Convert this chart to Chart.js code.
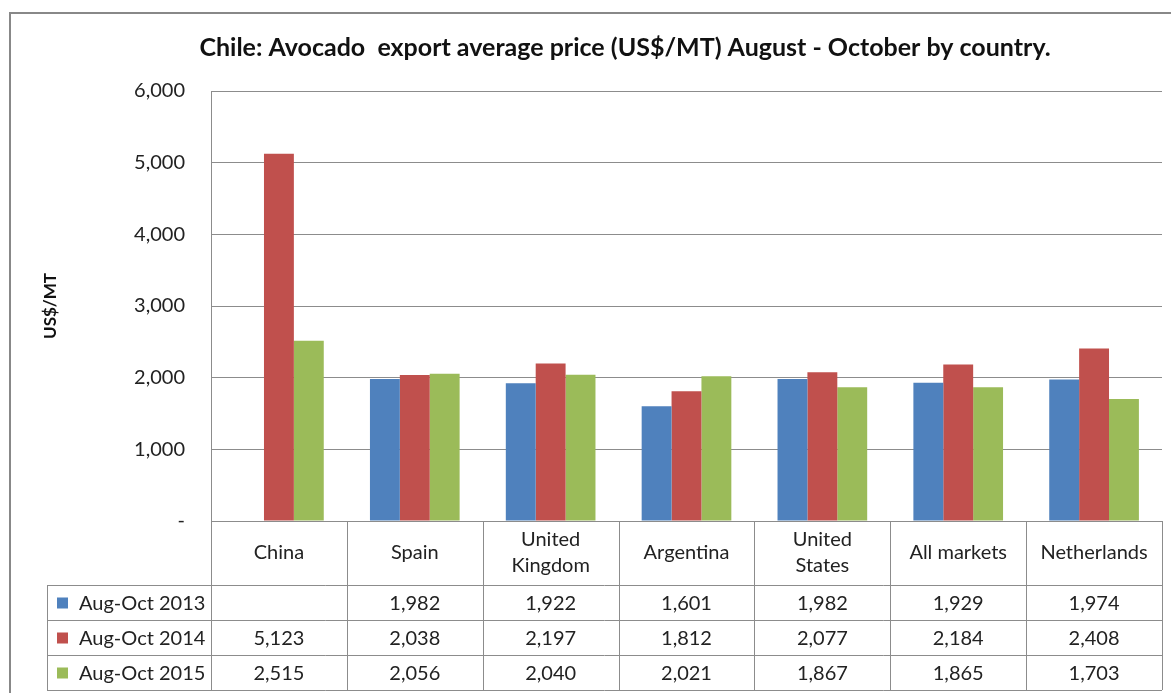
<!DOCTYPE html>
<html>
<head>
<meta charset="utf-8">
<script src="https://cdn.jsdelivr.net/npm/chart.js@4.4.1/dist/chart.umd.min.js"></script>
<style>
  html, body { margin: 0; padding: 0; background: #fff; }
  canvas { display: block; }
</style>
</head>
<body>
<canvas id="avocado" width="1171" height="693"></canvas>
<script>
// data
var categories = ["China", "Spain", "United Kingdom", "Argentina", "United States", "All markets", "Netherlands"];
var headerLines = [["China"], ["Spain"], ["United", "Kingdom"], ["Argentina"], ["United", "States"], ["All markets"], ["Netherlands"]];
var seriesNames = ["Aug-Oct 2013", "Aug-Oct 2014", "Aug-Oct 2015"];
var aug2013 = [null, 1982, 1922, 1601, 1982, 1929, 1974];
var aug2014 = [5123, 2038, 2197, 1812, 2077, 2184, 2408];
var aug2015 = [2515, 2056, 2040, 2021, 1867, 1865, 1703];
var yMin = 0, yMax = 6000, yStep = 1000;
var yTitle = "US$/MT";

var colors = ["#4F81BD", "#C0504D", "#9BBB59"];
var gridColor = "#8c8c8c";
var textColor = "#222";
var fontName = "Lato, 'Open Sans', sans-serif";

var fmt = function(v) { return v == null ? "" : v.toLocaleString("en-US"); };

// outer frame, y title and the data table under the plot (columns follow the x scale)
var tablePlugin = {
  id: 'dataTable',
  beforeDraw: function(chart) {
    var ctx = chart.ctx;
    ctx.save();
    ctx.fillStyle = "#fff";
    ctx.fillRect(0, 0, chart.width, chart.height);
    ctx.strokeStyle = "#888";
    ctx.lineWidth = 2;
    ctx.beginPath();
    ctx.moveTo(10, chart.height + 5);
    ctx.lineTo(10, 13);
    ctx.lineTo(chart.width + 5, 13);
    ctx.stroke();
    ctx.restore();
  },
  afterDraw: function(chart) {
    var ctx = chart.ctx;
    var area = chart.chartArea;
    var xs = chart.scales.x;
    var n = categories.length;
    var colW = (area.right - area.left) / n;
    var top = area.bottom;
    var headBottom = top + 64;
    var rowH = 35;
    var tableLeft = 47;
    var bottom = headBottom + rowH * seriesNames.length;

    ctx.save();
    // y axis title
    ctx.translate(51, (area.top + area.bottom) / 2);
    ctx.rotate(-Math.PI / 2);
    ctx.fillStyle = "#111";
    ctx.font = "bold 17px " + fontName;
    ctx.textAlign = "center";
    ctx.textBaseline = "middle";
    ctx.fillText(yTitle, 0, 0);
    ctx.restore();

    ctx.save();
    ctx.strokeStyle = gridColor;
    ctx.lineWidth = 1;
    ctx.beginPath();
    for (var i = 0; i <= n; i++) {
      var lx = Math.round(area.left + i * colW) + 0.5;
      ctx.moveTo(lx, top);
      ctx.lineTo(lx, bottom);
    }
    ctx.moveTo(tableLeft + 0.5, headBottom);
    ctx.lineTo(tableLeft + 0.5, bottom);
    for (var r = 0; r <= seriesNames.length; r++) {
      var ly = Math.round(headBottom + r * rowH) + 0.5;
      ctx.moveTo(tableLeft, ly);
      ctx.lineTo(area.right, ly);
    }
    ctx.stroke();

    ctx.fillStyle = textColor;
    ctx.font = "20px " + fontName;
    ctx.textAlign = "center";
    ctx.textBaseline = "middle";
    for (var c = 0; c < n; c++) {
      var cx = xs.getPixelForValue(c);
      var lines = headerLines[c];
      var midY = (top + headBottom) / 2;
      for (var k = 0; k < lines.length; k++) {
        var yy = midY + (k - (lines.length - 1) / 2) * 26;
        ctx.fillText(lines[k], cx, yy);
      }
    }

    var rows = [aug2013, aug2014, aug2015];
    for (var s = 0; s < rows.length; s++) {
      var cy = headBottom + s * rowH + rowH / 2;
      ctx.fillStyle = colors[s];
      ctx.fillRect(tableLeft + 10, cy - 5, 11, 11);
      ctx.fillStyle = textColor;
      ctx.textAlign = "left";
      ctx.fillText(seriesNames[s], tableLeft + 32, cy + 1);
      ctx.textAlign = "center";
      for (var c2 = 0; c2 < n; c2++) {
        ctx.fillText(fmt(rows[s][c2]), xs.getPixelForValue(c2), cy + 1);
      }
    }
    ctx.restore();
  }
};

var ctx = document.getElementById("avocado");
var avocadoChart = new Chart(ctx, {
  type: 'bar',
  data: {
    labels: categories,
    datasets: [
      { label: seriesNames[0], data: aug2013, backgroundColor: colors[0] },
      { label: seriesNames[1], data: aug2014, backgroundColor: colors[1] },
      { label: seriesNames[2], data: aug2015, backgroundColor: colors[2] }
    ]
  },
  options: {
    responsive: false,
    animation: false,
    // left padding + axis width keep the plot at x=211 while centring the title like the original
    layout: { padding: { left: 88, right: 9, top: 0, bottom: 172 } },
    datasets: { bar: { categoryPercentage: 0.66, barPercentage: 1.0 } },
    plugins: {
      legend: { display: false },
      tooltip: { enabled: false },
      title: {
        display: true,
        text: "Chile: Avocado  export average price (US$/MT) August - October by country.",
        color: "#111",
        font: { family: fontName, size: 25, weight: 'bold' },
        padding: { top: 33, bottom: 28 }
      }
    },
    scales: {
      x: {
        display: false,
        offset: true
      },
      y: {
        min: yMin,
        max: yMax,
        afterFit: function(scale) { scale.width = 211 - 88; },
        border: { display: true, color: gridColor },
        grid: { color: gridColor, drawTicks: false },
        ticks: {
          stepSize: yStep,
          padding: 26,
          color: textColor,
          font: { family: fontName, size: 20 },
          callback: function(v) { return v === 0 ? "-" : fmt(v); }
        }
      }
    }
  },
  plugins: [tablePlugin]
});
</script>
</body>
</html>
